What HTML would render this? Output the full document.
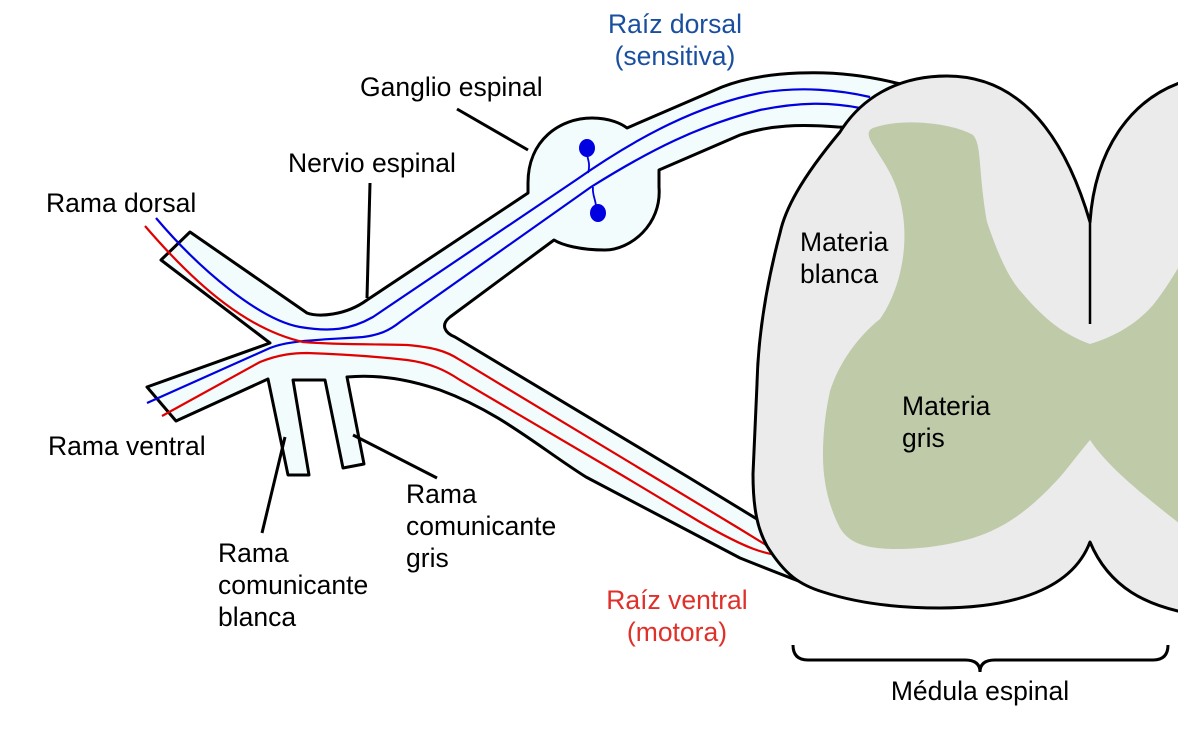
<!DOCTYPE html>
<html><head><meta charset="utf-8"><style>
html,body{margin:0;padding:0;background:#fff;}
svg{display:block;}
text{font-family:"Liberation Sans",sans-serif;font-size:26.5px;}
</style></head><body>
<svg width="1178" height="751" viewBox="0 0 1178 751" xmlns="http://www.w3.org/2000/svg">
<rect width="1178" height="751" fill="#fff"/>
<!-- nerve -->
<path d="M190,232 L307,313 C318,317 345,316 367,300 L528,193 L528,183 C528,140 560,118 592,118 C610,118 622,124 627,128 L722,87 C760,72 830,66 896,83 L930,90 L930,130 L838,127 C800,124 770,125 740,135 L659,170 L659,187 C662,225 630,250 605,250 C580,250 562,245 554,240 L450,317 C440,325 445,333 455,337 L688,477 L770,527 L880,560 L860,585 L812,586 C790,578 770,570 740,558 L586,477 C540,448 500,412 440,390 C410,380 380,374 347,377 L364,464 L343,468 L325,380 L293,380 L309,475 L288,475 L268,379 L176,421 L147,387 L270,343 L161,260 Z" fill="#f3fcfc" stroke="#000" stroke-width="3" stroke-linejoin="round"/>
<!-- blue fibers -->
<path d="M156,218 C200,270 260,320 300,327 C330,332 350,330 373,317 L576,180 C640,135 700,105 760,93 C800,86 840,90 870,97" fill="none" stroke="#0000e0" stroke-width="2.2"/>
<path d="M147,403 L270,348 C290,340 320,340 363,337 C380,335 390,330 400,322 L591,187 C650,150 700,125 760,110 C800,102 830,102 860,108" fill="none" stroke="#0000e0" stroke-width="2.2"/>
<!-- red fibers -->
<path d="M145,226 C200,290 250,330 303,342 C340,345 380,344 407,345 C430,347 445,350 460,360 L654,477 L740,529 L810,572" fill="none" stroke="#e00000" stroke-width="2.2"/>
<path d="M162,416 L260,362 C280,354 295,353 307,353 C340,354 380,357 407,360 C430,363 445,370 460,380 L625,477 L700,522 C740,545 770,560 800,555" fill="none" stroke="#e00000" stroke-width="2.2"/>
<!-- neurons -->
<ellipse cx="587" cy="148" rx="8" ry="9" fill="#0000e0"/>
<ellipse cx="598" cy="213" rx="8" ry="9" fill="#0000e0"/>
<path d="M587,155 C589,162 590,166 588,173" stroke="#0000e0" stroke-width="1.8" fill="none"/>
<path d="M593,187 C592,195 596,200 596,207" stroke="#0000e0" stroke-width="1.8" fill="none"/>
<!-- spinal cord -->
<path d="M1090,222 C1060,120 1010,76 947,76 C895,76 860,100 840,132 C800,180 785,210 780,233 C765,290 758,340 757,384 L753,474 C753,510 758,530 767,546 C785,575 800,585 823,592 C860,604 900,608 940,608 C1000,608 1070,595 1090,542 C1110,590 1150,605 1182,612 L1182,82 C1130,100 1095,150 1090,222 Z" fill="#ebebeb" stroke="#000" stroke-width="3" stroke-linejoin="round"/>
<path d="M873,128 C900,118 950,122 973,135 C982,145 978,170 987,222 C1000,260 1010,280 1023,294 C1045,320 1065,335 1090,344 C1120,335 1140,320 1153,305 C1165,290 1172,278 1180,265 L1180,524 C1150,500 1110,470 1090,440 C1075,458 1068,468 1060,477 C1030,510 1005,528 973,538 C945,546 920,549 897,549 C870,549 850,545 840,528 C828,505 823,480 823,456 C823,430 826,410 830,391 C840,360 860,335 880,319 C900,290 908,250 903,215 C898,180 885,165 875,148 C868,138 866,131 873,128 Z" fill="#bfcaa9"/>
<line x1="1090" y1="222" x2="1090" y2="324" stroke="#000" stroke-width="2.5"/>
<!-- leader lines -->
<line x1="457" y1="109" x2="528" y2="150" stroke="#000" stroke-width="3"/>
<line x1="370" y1="183" x2="367" y2="298" stroke="#000" stroke-width="3"/>
<line x1="285" y1="437" x2="262" y2="533" stroke="#000" stroke-width="3"/>
<line x1="353" y1="435" x2="437" y2="478" stroke="#000" stroke-width="3"/>
<!-- brace -->
<path d="M793,645 Q793,660 808,660 L965,660 Q980,660 980,672 Q980,660 995,660 L1153,660 Q1168,660 1168,645" fill="none" stroke="#000" stroke-width="3"/>
<!-- labels -->
<text x="675" y="33" fill="#1a4fa0" text-anchor="middle">Raíz dorsal</text>
<text x="675" y="65" fill="#1a4fa0" text-anchor="middle">(sensitiva)</text>
<text x="360" y="96">Ganglio espinal</text>
<text x="288" y="172">Nervio espinal</text>
<text x="46" y="212">Rama dorsal</text>
<text x="48" y="455">Rama ventral</text>
<text x="800" y="251">Materia</text>
<text x="800" y="283">blanca</text>
<text x="902" y="415">Materia</text>
<text x="902" y="447">gris</text>
<text x="406" y="503">Rama</text>
<text x="406" y="535">comunicante</text>
<text x="406" y="567">gris</text>
<text x="218" y="562">Rama</text>
<text x="218" y="594">comunicante</text>
<text x="218" y="626">blanca</text>
<text x="677" y="609" fill="#e0302a" text-anchor="middle">Raíz ventral</text>
<text x="677" y="641" fill="#e0302a" text-anchor="middle">(motora)</text>
<text x="980" y="700" text-anchor="middle">Médula espinal</text>
</svg>
</body></html>
